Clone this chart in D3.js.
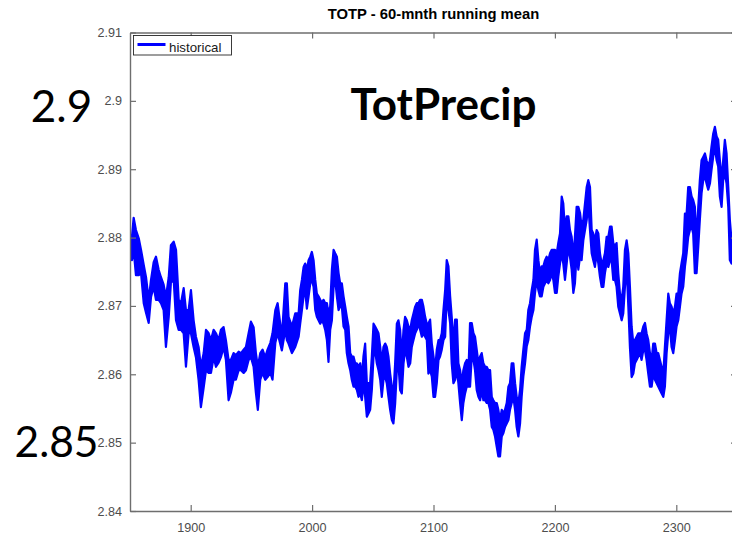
<!DOCTYPE html>
<html>
<head>
<meta charset="utf-8">
<script src="https://cdn.jsdelivr.net/npm/d3@7"></script>
<style>
  html, body { margin: 0; padding: 0; background: #ffffff; overflow: hidden; }
  svg { display: block; }
</style>
</head>
<body>
<svg id="chart" width="732" height="536"></svg>
<script>
// 60-month running mean of total precipitation, "historical" run.
// The running mean still carries month-to-month jitter, so each sample
// keeps the upper and lower edge of that jitter around the given year.
const years = [
  1851.6, 1853.0, 1854.9, 1857.2, 1859.1, 1861.3, 1863.2, 1865.4, 1867.3, 1869.5,
  1871.4, 1873.6, 1875.5, 1877.7, 1879.6, 1881.9, 1883.7, 1886.0, 1887.9, 1890.1,
  1892.0, 1894.2, 1896.1, 1898.3, 1900.2, 1902.4, 1904.3, 1906.5, 1908.4, 1910.7,
  1912.6, 1914.8, 1916.7, 1918.9, 1920.8, 1923.0, 1924.9, 1927.1, 1929.0, 1931.2,
  1933.1, 1935.3, 1937.2, 1939.5, 1941.4, 1943.6, 1945.5, 1947.7, 1949.6, 1951.8,
  1953.7, 1955.3, 1957.3, 1959.2, 1961.4, 1963.3, 1965.6, 1967.4, 1969.7, 1971.6,
  1975.1, 1977.9, 1979.2, 1980.6, 1983.4, 1986.1, 1988.9,
  1990.2, 1991.6, 1993.0, 1994.3, 1995.7, 1997.1, 1998.5, 1999.8, 2001.2, 2002.6,
  2003.9, 2005.3, 2006.7, 2008.1, 2009.4, 2010.8, 2012.2, 2013.5, 2014.9, 2016.3,
  2017.7, 2019.0, 2020.4, 2021.8, 2023.1, 2024.5, 2025.9, 2027.3, 2028.6, 2030.0,
  2031.4, 2032.7, 2034.1, 2035.5, 2036.9, 2038.2, 2039.6, 2041.0, 2042.3, 2043.7,
  2045.1, 2046.5, 2047.8, 2049.2, 2050.6, 2051.9, 2053.3, 2054.7, 2056.1, 2057.4,
  2058.8, 2060.2, 2061.5, 2062.9, 2064.3, 2065.7, 2067.0, 2068.4, 2069.8, 2071.1,
  2072.5, 2073.9, 2075.3, 2076.6, 2078.0, 2079.4, 2080.8, 2082.1, 2083.5, 2084.9,
  2086.2, 2087.6, 2089.0, 2090.4, 2091.7, 2093.1, 2094.5, 2095.8,
  2097.2, 2098.6, 2100.0, 2101.3, 2102.7, 2104.1, 2105.4, 2106.8, 2108.2, 2109.6,
  2110.9, 2112.3, 2113.7, 2115.0, 2116.4, 2117.8, 2119.2, 2120.5, 2121.9, 2123.3,
  2124.6, 2126.0, 2127.4, 2128.8, 2130.1, 2131.5, 2132.9, 2134.2, 2135.6, 2137.0,
  2138.4, 2139.7, 2141.1, 2142.5, 2143.8, 2145.2, 2146.6, 2148.0, 2149.3, 2150.7,
  2152.1, 2153.4, 2154.8, 2156.2, 2157.6, 2158.9, 2160.3, 2161.7, 2163.0, 2164.4,
  2165.8, 2167.2, 2168.5, 2169.9, 2171.3, 2172.6, 2174.0, 2175.4, 2176.8, 2178.1,
  2179.5, 2180.9, 2182.3, 2183.6, 2185.0, 2186.4, 2187.7, 2189.1, 2190.5, 2191.9,
  2193.2, 2194.6, 2196.0, 2197.3, 2198.7, 2200.1, 2201.5, 2202.8, 2204.2, 2205.6,
  2206.9, 2208.3, 2209.7, 2211.1, 2212.4, 2213.8, 2215.2, 2216.5, 2217.9, 2219.3,
  2220.7,
  2222.0, 2223.4, 2224.8, 2226.2, 2227.5, 2228.9, 2230.3, 2231.6, 2233.0, 2234.4,
  2235.8, 2237.1, 2238.5, 2239.9, 2241.2, 2242.6, 2244.0, 2245.4, 2246.7, 2248.1,
  2249.5, 2250.8, 2252.2, 2253.6, 2255.0, 2256.3, 2257.7, 2259.1, 2260.5, 2261.8,
  2263.2, 2264.6, 2265.9, 2267.3, 2268.7, 2270.1, 2271.4, 2272.8, 2274.2, 2275.5,
  2276.9, 2278.3, 2279.7, 2281.0, 2282.4, 2283.8, 2285.1, 2286.5, 2287.9, 2289.3,
  2290.6, 2292.0, 2293.4, 2294.7, 2296.1, 2297.5, 2298.9, 2300.2, 2301.6, 2303.0,
  2304.3, 2305.7, 2307.1, 2308.5, 2309.8, 2311.2, 2312.6, 2313.9, 2315.3, 2316.7,
  2318.1, 2319.4, 2320.8, 2322.2, 2323.6, 2324.9, 2326.3, 2327.7, 2329.0, 2330.4,
  2331.8, 2333.2, 2334.5, 2335.9, 2337.3, 2338.6, 2340.0, 2341.4, 2342.8, 2344.1,
  2345.5
];

const upper = [
  2.8801, 2.8829, 2.8811, 2.8799, 2.8782, 2.8760, 2.8742, 2.8709, 2.8738, 2.8764,
  2.8772, 2.8753, 2.8742, 2.8731, 2.8713, 2.8742, 2.8789, 2.8794, 2.8782, 2.8709,
  2.8704, 2.8726, 2.8694, 2.8694, 2.8723, 2.8679, 2.8655, 2.8640, 2.8611, 2.8631,
  2.8665, 2.8660, 2.8650, 2.8665, 2.8660, 2.8650, 2.8665, 2.8669, 2.8650, 2.8621,
  2.8621, 2.8631, 2.8628, 2.8633, 2.8631, 2.8636, 2.8640, 2.8660, 2.8677, 2.8669,
  2.8631, 2.8611, 2.8631, 2.8636, 2.8625, 2.8636, 2.8646, 2.8660, 2.8694, 2.8704,
  2.8655, 2.8733, 2.8733, 2.8684, 2.8670, 2.8689, 2.8689,
  2.8723, 2.8738, 2.8757, 2.8762, 2.8753, 2.8767, 2.8772, 2.8779, 2.8767, 2.8738,
  2.8718, 2.8714, 2.8709, 2.8704, 2.8709, 2.8704, 2.8704, 2.8689, 2.8699, 2.8753,
  2.8782, 2.8777, 2.8772, 2.8748, 2.8733, 2.8733, 2.8714, 2.8699, 2.8684, 2.8670,
  2.8631, 2.8626, 2.8626, 2.8616, 2.8616, 2.8611, 2.8616, 2.8596, 2.8626, 2.8645,
  2.8587, 2.8587, 2.8587, 2.8626, 2.8674, 2.8670, 2.8665, 2.8660, 2.8640, 2.8616,
  2.8640, 2.8645, 2.8640, 2.8626, 2.8601, 2.8582, 2.8572, 2.8616, 2.8674, 2.8679,
  2.8665, 2.8626, 2.8665, 2.8684, 2.8679, 2.8670, 2.8665, 2.8679, 2.8689, 2.8699,
  2.8704, 2.8704, 2.8709, 2.8709, 2.8699, 2.8684, 2.8674, 2.8674,
  2.8680, 2.8645, 2.8626, 2.8606, 2.8636, 2.8650, 2.8650, 2.8660, 2.8694, 2.8723,
  2.8767, 2.8758, 2.8714, 2.8684, 2.8645, 2.8680, 2.8680, 2.8616, 2.8606, 2.8587,
  2.8606, 2.8616, 2.8621, 2.8606, 2.8675, 2.8675, 2.8660, 2.8655, 2.8636, 2.8616,
  2.8626, 2.8631, 2.8616, 2.8611, 2.8611, 2.8606, 2.8606, 2.8567, 2.8562, 2.8558,
  2.8558, 2.8548, 2.8533, 2.8548, 2.8543, 2.8548, 2.8558, 2.8582, 2.8587, 2.8616,
  2.8616, 2.8587, 2.8567, 2.8558, 2.8577, 2.8611, 2.8636, 2.8660, 2.8665, 2.8694,
  2.8704, 2.8723, 2.8738, 2.8782, 2.8797, 2.8767, 2.8748, 2.8758, 2.8758, 2.8767,
  2.8772, 2.8767, 2.8777, 2.8782, 2.8782, 2.8782, 2.8777, 2.8792, 2.8806, 2.8860,
  2.8850, 2.8811, 2.8831, 2.8831, 2.8811, 2.8801, 2.8772, 2.8801, 2.8845, 2.8845,
  2.8836,
  2.8816, 2.8826, 2.8850, 2.8874, 2.8884, 2.8874, 2.8811, 2.8806, 2.8796, 2.8811,
  2.8806, 2.8777, 2.8762, 2.8767, 2.8777, 2.8801, 2.8801, 2.8816, 2.8816, 2.8792,
  2.8787, 2.8792, 2.8748, 2.8718, 2.8709, 2.8728, 2.8782, 2.8796, 2.8777, 2.8728,
  2.8670, 2.8645, 2.8650, 2.8655, 2.8660, 2.8660, 2.8660, 2.8670, 2.8675, 2.8660,
  2.8650, 2.8631, 2.8621, 2.8645, 2.8645, 2.8631, 2.8631, 2.8621, 2.8611, 2.8601,
  2.8640, 2.8679, 2.8718, 2.8704, 2.8699, 2.8689, 2.8699, 2.8718, 2.8718, 2.8748,
  2.8762, 2.8777, 2.8835, 2.8835, 2.8874, 2.8874, 2.8860, 2.8855, 2.8845, 2.8796,
  2.8845, 2.8884, 2.8913, 2.8918, 2.8923, 2.8913, 2.8904, 2.8913, 2.8933, 2.8952,
  2.8962, 2.8948, 2.8943, 2.8913, 2.8884, 2.8913, 2.8943, 2.8923, 2.8874, 2.8826,
  2.8796
];

const lower = [
  2.8767, 2.8782, 2.8745, 2.8745, 2.8748, 2.8704, 2.8690, 2.8675, 2.8713, 2.8728,
  2.8709, 2.8709, 2.8704, 2.8694, 2.8640, 2.8684, 2.8734, 2.8738, 2.8679, 2.8665,
  2.8665, 2.8660, 2.8611, 2.8660, 2.8660, 2.8640, 2.8625, 2.8592, 2.8552, 2.8581,
  2.8606, 2.8602, 2.8602, 2.8625, 2.8611, 2.8617, 2.8625, 2.8640, 2.8621, 2.8562,
  2.8573, 2.8592, 2.8592, 2.8606, 2.8606, 2.8602, 2.8606, 2.8621, 2.8625, 2.8611,
  2.8573, 2.8548, 2.8592, 2.8602, 2.8592, 2.8596, 2.8602, 2.8592, 2.8646, 2.8660,
  2.8635, 2.8665, 2.8650, 2.8645, 2.8631, 2.8640, 2.8655,
  2.8674, 2.8694, 2.8714, 2.8723, 2.8696, 2.8714, 2.8733, 2.8738, 2.8728, 2.8694,
  2.8684, 2.8679, 2.8674, 2.8679, 2.8674, 2.8665, 2.8650, 2.8618, 2.8665, 2.8679,
  2.8728, 2.8738, 2.8714, 2.8694, 2.8699, 2.8699, 2.8670, 2.8665, 2.8631, 2.8616,
  2.8606, 2.8592, 2.8582, 2.8582, 2.8577, 2.8567, 2.8572, 2.8562, 2.8587, 2.8567,
  2.8538, 2.8543, 2.8548, 2.8577, 2.8626, 2.8635, 2.8616, 2.8606, 2.8592, 2.8567,
  2.8592, 2.8596, 2.8587, 2.8567, 2.8548, 2.8533, 2.8528, 2.8557, 2.8606, 2.8616,
  2.8577, 2.8572, 2.8616, 2.8635, 2.8626, 2.8611, 2.8616, 2.8640, 2.8650, 2.8660,
  2.8665, 2.8674, 2.8665, 2.8655, 2.8660, 2.8655, 2.8650, 2.8601,
  2.8606, 2.8597, 2.8567, 2.8567, 2.8587, 2.8621, 2.8626, 2.8636, 2.8650, 2.8655,
  2.8714, 2.8694, 2.8675, 2.8616, 2.8587, 2.8592, 2.8606, 2.8587, 2.8558, 2.8533,
  2.8558, 2.8572, 2.8582, 2.8582, 2.8582, 2.8626, 2.8621, 2.8606, 2.8577, 2.8567,
  2.8562, 2.8577, 2.8562, 2.8562, 2.8558, 2.8558, 2.8548, 2.8523, 2.8519, 2.8509,
  2.8494, 2.8480, 2.8480, 2.8509, 2.8514, 2.8523, 2.8528, 2.8533, 2.8548, 2.8558,
  2.8567, 2.8548, 2.8523, 2.8509, 2.8528, 2.8567, 2.8597, 2.8616, 2.8641, 2.8650,
  2.8670, 2.8684, 2.8694, 2.8719, 2.8738, 2.8723, 2.8714, 2.8714, 2.8728, 2.8733,
  2.8738, 2.8733, 2.8738, 2.8748, 2.8738, 2.8719, 2.8719, 2.8743, 2.8762, 2.8777,
  2.8762, 2.8738, 2.8762, 2.8787, 2.8772, 2.8753, 2.8719, 2.8733, 2.8777, 2.8753,
  2.8772,
  2.8767, 2.8796, 2.8811, 2.8826, 2.8850, 2.8811, 2.8777, 2.8767, 2.8757, 2.8777,
  2.8762, 2.8743, 2.8728, 2.8728, 2.8748, 2.8762, 2.8757, 2.8767, 2.8767, 2.8738,
  2.8738, 2.8728, 2.8699, 2.8689, 2.8679, 2.8689, 2.8728, 2.8757, 2.8699, 2.8640,
  2.8596, 2.8601, 2.8616, 2.8621, 2.8626, 2.8631, 2.8621, 2.8635, 2.8635, 2.8621,
  2.8601, 2.8582, 2.8582, 2.8601, 2.8592, 2.8587, 2.8582, 2.8577, 2.8572, 2.8567,
  2.8582, 2.8631, 2.8660, 2.8670, 2.8640, 2.8631, 2.8650, 2.8670, 2.8679, 2.8699,
  2.8718, 2.8728, 2.8757, 2.8777, 2.8801, 2.8811, 2.8816, 2.8806, 2.8748, 2.8748,
  2.8787, 2.8826, 2.8865, 2.8884, 2.8889, 2.8879, 2.8870, 2.8879, 2.8899, 2.8918,
  2.8933, 2.8913, 2.8904, 2.8860, 2.8845, 2.8884, 2.8894, 2.8879, 2.8845, 2.8767,
  2.8762
];

const xTicks = [1900, 2000, 2100, 2200, 2300];
const yTicks = [2.84, 2.85, 2.86, 2.87, 2.88, 2.89, 2.90, 2.91];
const yTickLabels = ["2.84", "2.85", "2.86", "2.87", "2.88", "2.89", "2.9", "2.91"];
const xDomain = [1850, 2350];
const yDomain = [2.84, 2.91];
const titleText = "TOTP - 60-mnth running mean";
const seriesName = "historical";
const headline = "TotPrecip";
const levelNotes = ["2.9", "2.85"];

const W = 732, H = 536;
const axisFont = "'Liberation Sans', Arial, Helvetica, sans-serif";
const noteFont = "Lato, 'Open Sans', 'Noto Sans', sans-serif";
const blue = "#0000ff";
const axisGrey = "#6e6e6e";
const labelGrey = "#4d4d4d";

const svg = d3.select("#chart");
svg.append("rect").attr("width", W).attr("height", H).attr("fill", "#ffffff");

const x = d3.scaleLinear().domain(xDomain).range([130, 737]);
const y = d3.scaleLinear().domain(yDomain).range([511, 32.5]);

const rows = years.map((yr, i) => ({ yr, hi: upper[i], lo: lower[i] }))
  .filter(d => d.hi != null && d.lo != null);

// plot region clip
svg.append("clipPath").attr("id", "plotClip")
  .append("rect").attr("x", 130).attr("y", 32.5).attr("width", 607).attr("height", 478.5);

const plot = svg.append("g").attr("clip-path", "url(#plotClip)");

// jittered running-mean trace: filled band between the jitter edges
plot.append("path")
  .datum(rows)
  .attr("d", d3.area().x(d => x(d.yr)).y0(d => y(d.lo)).y1(d => y(d.hi)))
  .attr("fill", blue)
  .attr("stroke", blue)
  .attr("stroke-width", 2.2)
  .attr("stroke-linejoin", "round");

// axes (MATLAB style box, ticks pointing inward)
function styleAxis(g) {
  g.select(".domain").attr("stroke", axisGrey).attr("stroke-width", 1.4);
  g.selectAll(".tick line").attr("stroke", axisGrey).attr("stroke-width", 1.2);
  g.selectAll(".tick text").attr("fill", labelGrey)
    .attr("font-family", axisFont).attr("font-size", 12.6);
}

svg.append("g")
  .attr("transform", `translate(0,${y(yDomain[0])})`)
  .call(d3.axisBottom(x).tickValues(xTicks).tickFormat(d3.format("d"))
    .tickSizeInner(-6).tickSizeOuter(0).tickPadding(12))
  .call(styleAxis);

svg.append("g")
  .attr("transform", `translate(0,${y(yDomain[1])})`)
  .call(d3.axisTop(x).tickValues(xTicks).tickFormat("")
    .tickSizeInner(-6).tickSizeOuter(0))
  .call(styleAxis);

svg.append("g")
  .attr("transform", `translate(${x(xDomain[0])},0)`)
  .call(d3.axisLeft(y).tickValues(yTicks).tickFormat((d, i) => yTickLabels[i])
    .tickSizeInner(-6).tickSizeOuter(0).tickPadding(8))
  .call(styleAxis);

svg.append("g")
  .attr("transform", `translate(${x(xDomain[1])},0)`)
  .call(d3.axisRight(y).tickValues(yTicks).tickFormat("")
    .tickSizeInner(-6).tickSizeOuter(0))
  .call(styleAxis);

// title
svg.append("text")
  .attr("x", (x(xDomain[0]) + x(xDomain[1])) / 2)
  .attr("y", 19)
  .attr("text-anchor", "middle")
  .attr("font-family", axisFont)
  .attr("font-weight", "bold")
  .attr("font-size", 14.8)
  .attr("fill", "#000000")
  .text(titleText);

// legend
const lg = svg.append("g");
lg.append("rect")
  .attr("x", 133.5).attr("y", 35.5).attr("width", 98).attr("height", 19.5)
  .attr("fill", "#ffffff").attr("stroke", "#262626").attr("stroke-width", 0.9);
lg.append("line")
  .attr("x1", 137.5).attr("x2", 165.5).attr("y1", 44.5).attr("y2", 44.5)
  .attr("stroke", blue).attr("stroke-width", 3);
lg.append("text")
  .attr("x", 169).attr("y", 51.5)
  .attr("font-family", axisFont).attr("font-size", 13.3)
  .attr("fill", "#1a1a1a")
  .text(seriesName);

// slide annotations laid over the figure
svg.append("text")
  .attr("x", 443.5).attr("y", 120)
  .attr("text-anchor", "middle")
  .attr("font-family", noteFont).attr("font-weight", "bold")
  .attr("font-size", 44).attr("fill", "#000000")
  .text(headline);

svg.append("text")
  .attr("x", 61.5).attr("y", 121.5)
  .attr("text-anchor", "middle")
  .attr("font-family", noteFont)
  .attr("font-size", 44).attr("fill", "#000000")
  .text(levelNotes[0]);

svg.append("text")
  .attr("x", 56.5).attr("y", 457)
  .attr("text-anchor", "middle")
  .attr("font-family", noteFont)
  .attr("font-size", 42.5).attr("fill", "#000000")
  .text(levelNotes[1]);
</script>
</body>
</html>
